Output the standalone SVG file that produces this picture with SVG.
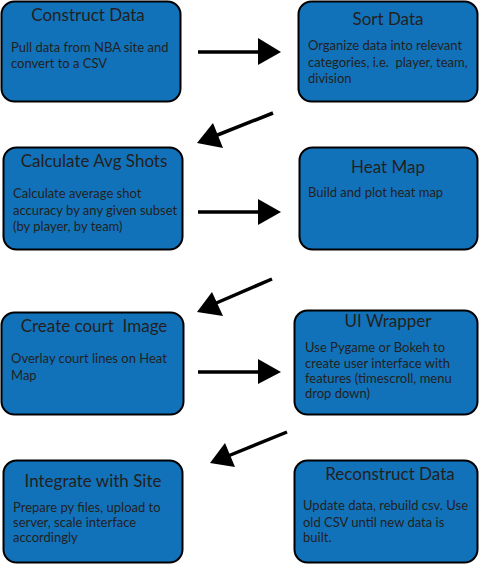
<svg xmlns="http://www.w3.org/2000/svg" width="479" height="565" viewBox="0 0 479 565">
<defs>
<style>
.box{fill:#1172ba;stroke:#000;stroke-width:2}
.t{font-family:Lato,"Open Sans",sans-serif;font-size:17px;fill:#231f20;text-anchor:middle}
.b{font-family:Lato,"Open Sans",sans-serif;font-size:13px;fill:#231f20}
.ln{stroke:#000;stroke-width:3.5;fill:none}
.hd{fill:#000}
</style>
</defs>
<rect width="479" height="565" fill="#fff"/>
<g id="construct-data">
<rect class="box" x="1.5" y="1.5" width="179" height="100" rx="13"/>
<text class="t" x="88" y="21">Construct Data</text>
<text class="b" x="11" y="52">Pull data from NBA site and</text>
<text class="b" x="11" y="68">convert to a CSV</text>
</g>
<g id="sort-data">
<rect class="box" x="298.5" y="1.5" width="179" height="100" rx="13"/>
<text class="t" x="388" y="25">Sort Data</text>
<text class="b" x="308" y="50">Organize data into relevant</text>
<text class="b" x="308" y="67" xml:space="preserve">categories, i.e.  player, team,</text>
<text class="b" x="308" y="83">division</text>
</g>
<g id="calculate-avg-shots">
<rect class="box" x="3.5" y="147.5" width="179" height="102" rx="13"/>
<text class="t" x="94" y="167">Calculate Avg Shots</text>
<text class="b" x="13" y="198">Calculate average shot</text>
<text class="b" x="13" y="215">accuracy by any given subset</text>
<text class="b" x="13" y="231">(by player, by team)</text>
</g>
<g id="heat-map">
<rect class="box" x="299.5" y="147.5" width="178" height="102" rx="13"/>
<text class="t" x="388" y="173">Heat Map</text>
<text class="b" x="308" y="197">Build and plot heat map</text>
</g>
<g id="create-court-image">
<rect class="box" x="1.5" y="312.5" width="182" height="102" rx="13"/>
<text class="t" x="94" y="332" xml:space="preserve">Create court  Image</text>
<text class="b" x="11" y="363">Overlay court lines on Heat</text>
<text class="b" x="11" y="380">Map</text>
</g>
<g id="ui-wrapper">
<rect class="box" x="294.5" y="310.5" width="183" height="104" rx="13"/>
<text class="t" x="388" y="327">UI Wrapper</text>
<text class="b" x="305" y="352">Use Pygame or Bokeh to</text>
<text class="b" x="305" y="368">create user interface with</text>
<text class="b" x="305" y="383">features (timescroll, menu</text>
<text class="b" x="305" y="398">drop down)</text>
</g>
<g id="integrate-with-site">
<rect class="box" x="3.5" y="460.5" width="179" height="102" rx="13"/>
<text class="t" x="93" y="487">Integrate with Site</text>
<text class="b" x="13" y="512">Prepare py files, upload to</text>
<text class="b" x="13" y="527">server, scale interface</text>
<text class="b" x="13" y="542">accordingly</text>
</g>
<g id="reconstruct-data">
<rect class="box" x="294.5" y="460.5" width="183" height="102" rx="13"/>
<text class="t" x="390" y="480">Reconstruct Data</text>
<text class="b" x="303" y="510">Update data, rebuild csv. Use</text>
<text class="b" x="303" y="527">old CSV until new data is</text>
<text class="b" x="303" y="542">built.</text>
</g>
<g id="connectors">
<line class="ln" x1="198" y1="52" x2="260" y2="52"/>
<polygon class="hd" points="258,38 281,52 258,65"/>
<line class="ln" x1="198" y1="212" x2="260" y2="212"/>
<polygon class="hd" points="258,199 281,212 258,225"/>
<line class="ln" x1="198" y1="372" x2="260" y2="372"/>
<polygon class="hd" points="258,359 281,372 258,384"/>
<line class="ln" x1="273" y1="113" x2="215" y2="136"/>
<polygon class="hd" points="197,143 213,123 223,148"/>
<line class="ln" x1="272" y1="279" x2="214" y2="304"/>
<polygon class="hd" points="197,312 212,292 223,316"/>
<line class="ln" x1="287" y1="432" x2="228" y2="456"/>
<polygon class="hd" points="210,463 225,443 235,467"/>
</g>
</svg>
